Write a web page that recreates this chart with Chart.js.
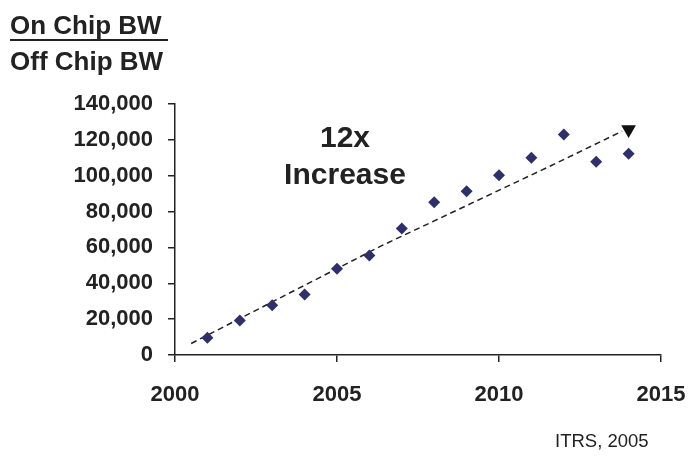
<!doctype html>
<html lang="en">
<head>
    <meta charset="utf-8">
    <title>On Chip BW / Off Chip BW</title>
    <style>
        html, body { margin: 0; padding: 0; background: #fff; }
        #wrap { position: relative; width: 688px; height: 456px; font-family: "Liberation Sans", Arial, sans-serif; color: #222; }
        #myChart { position: absolute; left: 0; top: 0; }
        .lbl { position: absolute; white-space: nowrap; font-weight: bold; }
        #t1 { left: 10px; top: 11px; font-size: 26px; border-bottom: 2px solid #222; line-height: 28px; padding-right: 6px; }
        #t2 { left: 10px; top: 47px; font-size: 26px; line-height: 28px; }
        #note { left: 270px; top: 118px; width: 150px; text-align: center; font-size: 30px; line-height: 37px; }
        #src { left: 555px; top: 430px; font-size: 18.5px; font-weight: normal; }
    </style>
</head>
<body>
<div id="wrap">
    <canvas id="myChart" width="688" height="456"></canvas>
    <div class="lbl" id="t1">On Chip BW</div>
    <div class="lbl" id="t2">Off Chip BW</div>
    <div class="lbl" id="note">12x<br>Increase</div>
    <div class="lbl" id="src">ITRS, 2005</div>
</div>
<script src="https://cdn.jsdelivr.net/npm/chart.js@4.4.1/dist/chart.umd.min.js"></script>
<script>
    // ratio values
    var years = [2001, 2002, 2003, 2004, 2005, 2006, 2007, 2008, 2009, 2010, 2011, 2012, 2013, 2014];
    var ratio = [9600, 19200, 27800, 33700, 48100, 55500, 70600, 85200, 91400, 100300, 110000, 123000, 107800, 112200];

    // dashed trend line
    var trendX = [2000.5, 2006.35, 2011.57, 2013.8];
    var trendY = [6400, 60700, 105300, 124800];

    // arrow head at end of trend
    var arrowX = [2014];
    var arrowY = [125800];

    var xTicks = [2000, 2005, 2010, 2015];
    var yMax = 140000;
    var yStep = 20000;

    var toPts = function (xs, ys) {
        return xs.map(function (x, i) { return { x: x, y: ys[i] }; });
    };

    var ink = '#222222';
    var tickFont = { family: 'Liberation Sans', size: 22, weight: 'bold' };

    var ctx = document.getElementById('myChart').getContext('2d');
    var chart = new Chart(ctx, {
        type: 'scatter',
        data: {
            datasets: [{
                label: 'trend',
                data: toPts(trendX, trendY),
                showLine: true,
                borderColor: ink,
                borderWidth: 1.5,
                borderDash: [6, 4],
                pointRadius: 0,
                tension: 0,
                order: 2
            }, {
                label: 'arrow',
                data: toPts(arrowX, arrowY),
                pointStyle: 'triangle',
                rotation: 180,
                pointRadius: 8.5,
                backgroundColor: '#111111',
                borderColor: '#111111',
                borderWidth: 0,
                order: 1
            }, {
                label: 'On/Off chip BW',
                data: toPts(years, ratio),
                pointStyle: 'rectRot',
                pointRadius: 6,
                backgroundColor: '#2f2f6b',
                borderColor: '#2f2f6b',
                borderWidth: 0,
                order: 0
            }]
        },
        options: {
            responsive: false,
            animation: false,
            layout: { padding: { left: 0, top: 104, right: 27, bottom: 0 } },
            plugins: {
                legend: { display: false },
                tooltip: { enabled: false }
            },
            scales: {
                x: {
                    type: 'linear',
                    min: 2000,
                    max: 2015,
                    afterBuildTicks: function (axis) {
                        axis.ticks = xTicks.map(function (v) { return { value: v }; });
                    },
                    afterFit: function (axis) {
                        axis.height = 101;
                        // keep the plot edge at 2015 regardless of label overflow
                        axis.paddingLeft = 0;
                        axis.paddingRight = 0;
                    },
                    grid: { drawOnChartArea: false, drawTicks: true, tickLength: 7, color: ink, lineWidth: 1.5 },
                    border: { color: ink, width: 1.5 },
                    ticks: {
                        color: ink,
                        font: tickFont,
                        padding: 20,
                        maxRotation: 0,
                        callback: function (v) { return String(v); }
                    }
                },
                y: {
                    min: 0,
                    max: yMax,
                    afterFit: function (axis) {
                        axis.width = 175;
                        axis.paddingTop = 0;
                        axis.paddingBottom = 0;
                    },
                    grid: { drawOnChartArea: false, drawTicks: true, tickLength: 7, color: ink, lineWidth: 1.5 },
                    border: { color: ink, width: 1.5 },
                    ticks: {
                        stepSize: yStep,
                        color: ink,
                        font: tickFont,
                        padding: 15,
                        callback: function (v) { return v.toLocaleString('en-US'); }
                    }
                }
            }
        }
    });
</script>
</body>
</html>
